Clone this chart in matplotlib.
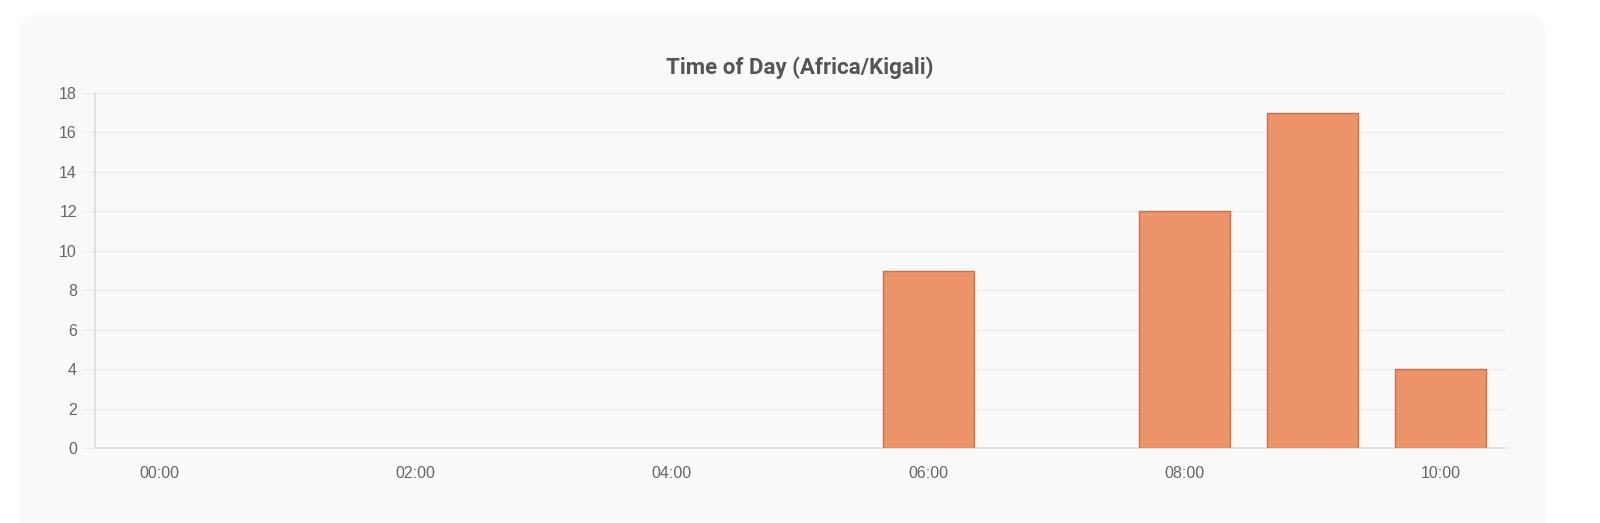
import matplotlib
matplotlib.use("Agg")
import matplotlib.pyplot as plt
from matplotlib.patches import FancyBboxPatch

categories = ["00:00", "01:00", "02:00", "03:00", "04:00", "05:00",
              "06:00", "07:00", "08:00", "09:00", "10:00"]
values = [0, 0, 0, 0, 0, 0, 9, 0, 12, 17, 4]
y_ticks = [0, 2, 4, 6, 8, 10, 12, 14, 16, 18]
title = "Time of Day (Africa/Kigali)"

W, H = 1600, 523
fig = plt.figure(figsize=(W / 100, H / 100), dpi=100)
fig.patch.set_facecolor("white")

panel = FancyBboxPatch((20 / W, -0.05), 1525 / W, (H - 15) / H + 0.05,
                       boxstyle="round,pad=0,rounding_size=0.01",
                       transform=fig.transFigure, facecolor="#f9f9f9",
                       edgecolor="none", zorder=-5, mutation_aspect=W / H)
fig.patches.append(panel)

ax = fig.add_axes([95 / W, 1 - 448 / H, 1410 / W, 355 / H])
ax.set_facecolor("none")
ax.set_zorder(1)

x = list(range(len(categories)))
edges = ["#c27251" if v > 0 else "none" for v in values]
ax.bar(x, values, width=0.71, color="#ec936a", edgecolor=edges,
       linewidth=1.0, zorder=3)

ax.set_xlim(-0.5, len(categories) - 0.5)
ax.set_ylim(0, 18)
ax.set_yticks(y_ticks)
ax.set_yticklabels([str(v) for v in y_ticks], fontfamily="Liberation Sans",
                   fontsize=11.5, color="#666666")
ax.set_xticks(x[::2])
ax.set_xticklabels(categories[::2], fontfamily="Liberation Sans",
                   fontsize=11.5, color="#666666")

ax.grid(axis="y", color="#ebebeb", linewidth=1, zorder=0)
ax.tick_params(axis="y", length=9, color="#ebebeb", pad=4)
ax.tick_params(axis="x", length=0, pad=13)
for s in ["top", "right"]:
    ax.spines[s].set_visible(False)
for s in ["left", "bottom"]:
    ax.spines[s].set_color("#dddddd")
    ax.spines[s].set_linewidth(1.2)

fig.text(0.5, 1 - 68 / H, title, ha="center", va="center",
         fontfamily="Roboto", fontweight="bold", fontsize=16, color="#555555")

fig.savefig("out.png", dpi=100, facecolor=fig.get_facecolor())
